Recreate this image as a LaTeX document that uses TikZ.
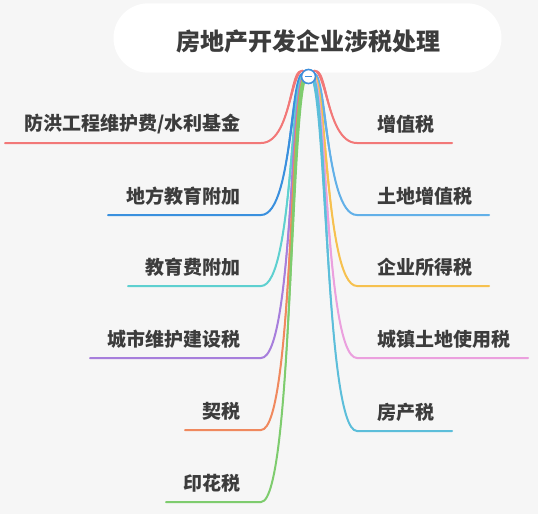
\documentclass[tikz,border=0pt]{standalone}
\usepackage{fontspec}
\setmainfont{Noto Sans CJK SC}
\usetikzlibrary{positioning, calc}

\definecolor{bggray}{HTML}{F6F6F6}
\definecolor{inkgray}{HTML}{3C3C3C}
\definecolor{hubblue}{HTML}{3F8FDB}
\definecolor{cred}{HTML}{F27878}
\definecolor{cblue}{HTML}{3A90DE}
\definecolor{cteal}{HTML}{5ED0D0}
\definecolor{cpurple}{HTML}{A77EDC}
\definecolor{corange}{HTML}{F0895E}
\definecolor{cgreen}{HTML}{7ECC6E}
\definecolor{cskyblue}{HTML}{62B0E8}
\definecolor{cyellow}{HTML}{F6C14F}
\definecolor{cpink}{HTML}{EBA0DE}
\definecolor{ccyan}{HTML}{5CBEDA}

\tikzset{
  topic/.style={font=\bfseries\fontsize{14.25}{16}\selectfont, text=inkgray, inner sep=0pt},
  branch/.style={line width=1.5pt, line cap=round},
}

\begin{document}
\begin{tikzpicture}[x=0.75pt, y=-0.75pt]
	\fill[bggray] (0,0) rectangle (538,514);
	\useasboundingbox (0,0) rectangle (538,514);
	\node[fill=white, rounded corners=26pt, minimum width=291pt, minimum height=52pt, inner sep=0pt] (root) at (307.5,38) {};
	\node[font=\bfseries\fontsize{18}{20}\selectfont, text=inkgray] (title) at (308,41) {房地产开发企业涉税处理};
	\coordinate (hub) at (308.5,76.5);
	
	% left side
	\foreach \txt/\ey/\xs/\col [count=\i] in {{防洪工程维护费/水利基金}/143/5/cred, 地方教育附加/215/108/cblue, 教育费附加/286/128/cteal, 城市维护建设税/358/90/cpurple, 契税/430/185/corange, 印花税/502/166/cgreen}
	{
		\node[topic, anchor=east] (lt\i) at (241,\ey-19) {\txt};
		\coordinate (le\i) at (261,\ey);
		\coordinate (ls\i) at (\xs,\ey);
		\fill[\col] ($(hub)+(-2,0)$) .. controls +(-19,-30) and +(34,-1) .. (le\i)
			.. controls +(34,1) and +(-19,-30) .. ($(hub)+(2,0)$) -- cycle;
		\draw[branch, \col] (hub) .. controls +(-19,-30) and +(34,0) .. (le\i) -- (ls\i);
	}
	
	% right side
	\foreach \txt/\ey/\xe/\col [count=\i] in {增值税/143/452/cred, 土地增值税/215/489/cskyblue, 企业所得税/286/489/cyellow, 城镇土地使用税/358/528/cpink, 房产税/431/452/ccyan}
	{
		\node[topic, anchor=west] (rt\i) at (377,\ey-19) {\txt};
		\coordinate (re\i) at (357,\ey);
		\coordinate (rs\i) at (\xe,\ey);
		\fill[\col] ($(hub)+(2,0)$) .. controls +(19,-30) and +(-34,-1) .. (re\i)
			.. controls +(-34,1) and +(19,-30) .. ($(hub)+(-2,0)$) -- cycle;
		\draw[branch, \col] (hub) .. controls +(19,-30) and +(-34,0) .. (re\i) -- (rs\i);
	}
	
	\node[circle, draw=hubblue, fill=white, line width=1.2pt, minimum size=10.5pt, inner sep=0pt] (hubc) at (hub) {};
	\draw[hubblue, line width=1.3pt] ($(hubc.center)+(-3.5,0)$) -- ($(hubc.center)+(3.5,0)$);
\end{tikzpicture}
\end{document}
